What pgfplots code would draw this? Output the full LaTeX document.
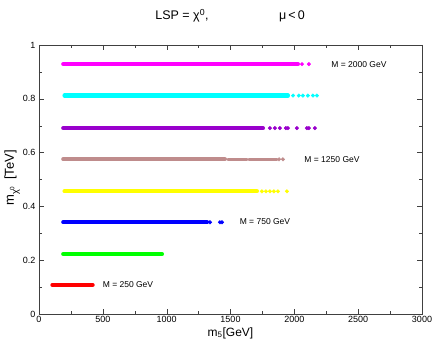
\documentclass[border=0pt]{standalone}
\usepackage{fontspec}
\setmainfont{Liberation Sans}
\usepackage{pgfplots}
\pgfplotsset{compat=1.18}
\definecolor{cmag}{HTML}{FF00FF}
\definecolor{ccya}{HTML}{00FFFF}
\definecolor{cpur}{HTML}{9900CC}
\definecolor{cbro}{HTML}{BF8C8C}
\definecolor{cyel}{HTML}{FFFF00}
\definecolor{cblu}{HTML}{0000FF}
\definecolor{cgre}{HTML}{00FF00}
\definecolor{cred}{HTML}{FF0000}
\begin{document}
\begin{tikzpicture}[
  band/.style={line width=4.2pt, line cap=round},
  lab/.style={font=\fontsize{8.5}{9}\selectfont, anchor=center},
]
\useasboundingbox (-39pt,-31pt) rectangle (397pt,314pt);
\begin{axis}[
  scale only axis, width=383pt, height=269pt,
  xmin=0, xmax=3000, ymin=0, ymax=1,
  xtick={0,500,1000,1500,2000,2500,3000}, minor x tick num=1,
  ytick={0,0.2,0.4,0.6,0.8,1}, minor y tick num=1,
  yticklabels={0,0.2,0.4,0.6,0.8,1},
  tick align=inside, major tick length=5pt, minor tick length=3pt,
  axis line style={black!75}, tick style={black!75},
  ticklabel style={font=\fontsize{9}{10}\selectfont},
  xticklabel style={yshift=1pt},
  /pgf/number format/assume math mode=true,
  /pgf/number format/1000 sep={},
  every axis plot/.append style={mark size=1.8pt},
]
% M = 2000 GeV
\addplot[band, cmag, no marks] coordinates {(190,0.929)(2028,0.929)};
\addplot[cmag, only marks, mark=*, mark options={draw=none, fill=cmag}] coordinates {(2060,0.929)(2114,0.929)};
% cyan
\addplot[band, ccya, no marks] coordinates {(200,0.812)(1950,0.812)};
\addplot[ccya, only marks, mark=*, mark options={draw=none, fill=ccya}] coordinates {(1990,0.812)(2035,0.812)(2067,0.812)(2106,0.812)(2146,0.812)(2177,0.812)};
% purple
\addplot[band, cpur, no marks] coordinates {(190,0.691)(1754,0.691)};
\addplot[cpur, only marks, mark=*, mark options={draw=none, fill=cpur}] coordinates {(1809,0.691)(1848,0.691)(1887,0.691)(1934,0.691)(1950,0.691)(2020,0.691)(2098,0.691)(2114,0.691)(2161,0.691)};
% M = 1250 GeV
\addplot[band, cbro, no marks] coordinates {(190,0.575)(1456,0.575)};
\addplot[band, cbro, no marks, line width=3.4pt] coordinates {(1480,0.575)(1629,0.575)};
\addplot[band, cbro, no marks, line width=3.4pt] coordinates {(1645,0.575)(1864,0.575)};
\addplot[cbro, only marks, mark=*, mark options={draw=none, fill=cbro}] coordinates {(1880,0.575)(1911,0.575)};
% yellow
\addplot[band, cyel, no marks] coordinates {(200,0.456)(1707,0.456)};
\addplot[cyel, only marks, mark=*, mark options={draw=none, fill=cyel}] coordinates {(1746,0.456)(1778,0.456)(1809,0.456)(1840,0.456)(1872,0.456)(1942,0.456)};
% M = 750 GeV
\addplot[band, cblu, no marks] coordinates {(190,0.341)(1316,0.341)};
\addplot[cblu, only marks, mark=*, mark options={draw=none, fill=cblu}] coordinates {(1339,0.341)(1417,0.341)(1433,0.341)};
% green
\addplot[band, cgre, no marks] coordinates {(190,0.223)(963,0.223)};
% M = 250 GeV
\addplot[band, cred, no marks] coordinates {(105,0.108)(420,0.108)};

\node[lab] at (axis cs:2506,0.929) {M = 2000 GeV};
\node[lab] at (axis cs:2295,0.575) {M = 1250 GeV};
\node[lab] at (axis cs:1770,0.342) {M = 750 GeV};
\node[lab] at (axis cs:697,0.108) {M = 250 GeV};
\end{axis}
\node[anchor=base, font=\fontsize{12.5}{14}\selectfont] at (143pt,294pt)
  {LSP = χ\textsuperscript{0},};
\node[anchor=base, font=\fontsize{12.5}{14}\selectfont] at (253pt,294pt)
  {μ\,<\,0};
\node[anchor=base, font=\fontsize{12}{13}\selectfont] at (191.5pt,-22pt)
  {m\textsubscript{5}[GeV]};
\node[anchor=base, rotate=90, font=\fontsize{13}{14}\selectfont] at (-25pt,136pt)
  {m\textsubscript{χ\textsuperscript{0}}\, [TeV]};
\end{tikzpicture}
\end{document}
